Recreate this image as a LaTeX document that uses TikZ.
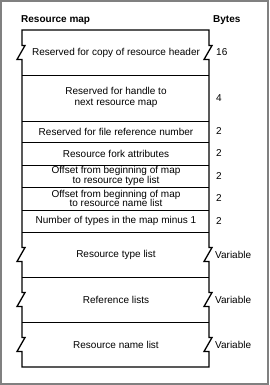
\documentclass[tikz,border=0pt]{standalone}
\usepackage{fontspec}
\setmainfont{Liberation Sans}
\begin{document}
\begin{tikzpicture}[x=1pt,y=-1pt,
  cell/.style={font=\fontsize{10}{11}\selectfont, align=center, inner sep=0pt},
  tight/.style={font=\fontsize{10}{9.5}\selectfont, align=center, inner sep=0pt},
  bytes/.style={font=\fontsize{10}{11}\selectfont, anchor=west, inner sep=0pt},
  head/.style={font=\bfseries\fontsize{10}{12}\selectfont, anchor=base west, inner sep=0pt},
  outer/.style={line width=1.3pt, line join=miter},
  inner/.style={line width=0.9pt}]
\useasboundingbox (0,0) rectangle (269,385);
\draw[line width=2.4pt, color=gray] (1.2,1.2) rectangle (267.8,383.8);
% headings
\node[head] (hmap) at (21,22.5) {Resource map};
\node[head] (hbytes) at (213,22.5) {Bytes};
% outer boundary with break marks
\draw[outer] (22,30) -- (22,45.5) -- (25,45.5) -- (17,59.5) -- (22,59.5)
  -- (22,247.5) -- (25,247.5) -- (17,261.5) -- (22,261.5)
  -- (22,292.5) -- (25,292.5) -- (17,306.5) -- (22,306.5)
  -- (22,337.5) -- (25,337.5) -- (17,351.5) -- (22,351.5)
  -- (22,367) -- (209,367)
  -- (209,351.5) -- (204,351.5) -- (212,337.5) -- (209,337.5)
  -- (209,306.5) -- (204,306.5) -- (212,292.5) -- (209,292.5)
  -- (209,261.5) -- (204,261.5) -- (212,247.5) -- (209,247.5)
  -- (209,59.5) -- (204,59.5) -- (212,45.5) -- (209,45.5)
  -- (209,30) -- cycle;
% row separators
\foreach \yy in {75,121,142,165,187,210,232,277,322}
  \draw[inner] (22,\yy) -- (209,\yy);
% cell texts
\node[cell] (r1) at (116,52.5) {Reserved for copy of resource header};
\node[cell] (r2) at (116,97) {Reserved for handle to\\next resource map};
\node[cell] (r3) at (116,131.5) {Reserved for file reference number};
\node[cell] (r4) at (116,153.5) {Resource fork attributes};
\node[tight] (r5) at (116,176) {Offset from beginning of map\\to resource type list};
\node[tight] (r6) at (116,198.5) {Offset from beginning of map\\to resource name list};
\node[cell] (r7) at (116,221) {Number of types in the map minus 1};
\node[cell] (r8) at (116,254.5) {Resource type list};
\node[cell] (r9) at (116,299.5) {Reference lists};
\node[cell] (r10) at (116,344.5) {Resource name list};
% byte counts
\node[bytes] (b1) at (216,52.5) {16};
\node[bytes] (b2) at (216,98) {4};
\node[bytes] (b3) at (216,131.5) {2};
\node[bytes] (b4) at (216,153.5) {2};
\node[bytes] (b5) at (216,176) {2};
\node[bytes] (b6) at (216,198.5) {2};
\node[bytes] (b7) at (216,221) {2};
\node[bytes] (b8) at (215,254.5) {Variable};
\node[bytes] (b9) at (215,299.5) {Variable};
\node[bytes] (b10) at (215,344.5) {Variable};
\end{tikzpicture}
\end{document}
